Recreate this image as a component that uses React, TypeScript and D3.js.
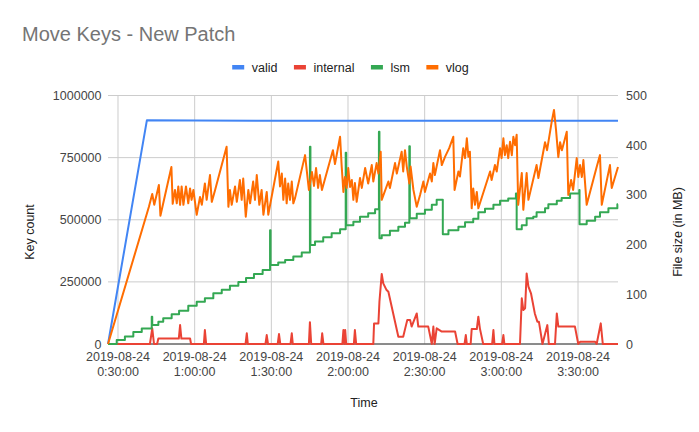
import React from 'react';
import * as d3 from 'd3';

// minutes after 2019-08-24 00:00 -> value
const validKeys: [number, number][] = [
  [26.1, 0], [41.3, 900000], [60, 899000], [225.65, 898000],
];

const internalKeys: [number, number][] = [
  [26.1, 0], [42.5, 0], [43.4, 63000], [44.1, 0], [45.3, 0], [45.8, 22000], [53.8, 22000], [54.3, 76000],
  [54.8, 22000], [58.2, 22000], [58.6, 0], [63.6, 0], [64.0, 56000], [64.5, 0], [79.9, 0], [80.4, 43000],
  [80.8, 0], [87.7, 0], [88.2, 36000], [88.7, 0], [92.5, 0], [93.0, 40000], [93.5, 0], [97.5, 0],
  [98.0, 43000], [98.4, 0], [104.7, 0], [105.1, 88000], [105.6, 0], [109.5, 0], [109.9, 43000], [110.4, 0],
  [117.8, 0], [118.2, 56000], [118.6, 0], [118.9, 56000], [119.3, 0], [122.3, 0], [122.7, 56000], [123.2, 0],
  [129.9, 0], [130.2, 83000], [131.9, 83000], [132.3, 170000], [133.2, 282000], [133.8, 244000],
  [135.1, 217000], [135.8, 210000], [139.7, 29000], [141.6, 29000], [142.7, 76000], [143.2, 97000],
  [144.3, 97000], [144.9, 70000], [146.9, 123000], [147.5, 70000], [151.4, 70000], [152.8, 0],
  [153.4, 70000], [153.9, 0], [154.7, 63000], [156.7, 50000], [161.9, 50000], [162.9, 0], [165.6, 0],
  [166.1, 36000], [166.5, 0], [168.0, 0], [168.4, 60000], [170.4, 60000], [171.0, 110000], [171.6, 63000],
  [172.9, 0], [176.4, 0], [176.9, 56000], [177.3, 0], [180.3, 0], [180.8, 36000], [181.2, 0], [187.3, 0],
  [188.0, 184000], [188.6, 137000], [189.3, 144000], [189.9, 284000], [190.6, 231000], [191.6, 204000],
  [193.1, 123000], [194.1, 90000], [194.7, 90000], [196.1, 0], [198.0, 76000], [198.6, 0], [201.0, 0],
  [201.7, 123000], [202.3, 70000], [208.8, 70000], [210.1, 0], [210.8, 9000], [216.7, 9000], [217.3, 0],
  [218.9, 83000], [219.7, 0], [225.65, 0],
];

const lsmMB: [number, number][] = [
  [26.1, 0], [29.5, 8], [32.7, 15], [36.0, 24], [39.3, 31], [43.2, 55], [43.4, 38], [45.8, 45], [47.7, 52],
  [51.0, 60], [53.9, 67], [57.5, 77], [60.8, 85], [64.0, 92], [67.3, 102], [70.6, 109], [73.8, 117],
  [77.1, 125], [80.1, 133], [83.2, 141], [86.6, 149], [89.5, 229], [89.7, 159], [92.7, 164], [95.4, 169],
  [98.6, 176], [101.9, 184], [105.1, 397], [105.3, 199], [107.1, 206], [110.3, 215], [113.6, 223],
  [116.9, 231], [119.1, 385], [119.3, 239], [122.1, 246], [124.7, 256], [127.9, 263], [130.6, 271],
  [132.1, 427], [132.3, 213], [133.2, 219], [136.4, 228], [139.7, 236], [142.3, 244], [144.0, 398],
  [144.2, 253], [146.9, 262], [150.1, 270], [152.8, 280], [154.7, 290], [157.1, 221], [159.3, 229],
  [163.2, 236], [165.8, 245], [169.0, 252], [171.0, 265], [173.6, 272], [176.9, 280], [179.5, 288],
  [182.7, 293], [185.7, 303], [186.0, 231], [188.0, 239], [189.9, 253], [192.5, 256], [193.8, 265],
  [197.1, 273], [198.4, 281], [201.7, 288], [203.6, 294], [206.9, 303], [210.5, 310], [210.6, 241],
  [213.4, 248], [216.7, 256], [218.6, 265], [221.9, 273], [225.4, 281], [225.65, 281],
];

const vlogMB: [number, number][] = [
  [26.1, 0], [42.1, 276], [43.4, 302], [44.2, 280], [46.0, 320], [46.6, 258], [50.9, 356], [51.4, 282],
  [52.3, 310], [53.0, 283], [53.6, 317], [54.3, 280], [54.9, 317], [55.6, 280], [56.6, 317], [57.5, 283],
  [58.2, 313], [58.8, 290], [59.5, 310], [60.8, 260], [62.1, 296], [62.8, 280], [64.0, 323], [64.7, 290],
  [66.0, 340], [66.7, 286], [68.0, 310], [72.5, 397], [73.2, 276], [73.8, 310], [74.5, 280], [75.8, 317],
  [76.5, 286], [77.7, 330], [78.4, 290], [79.0, 333], [80.0, 256], [81.0, 310], [81.7, 283], [82.9, 327],
  [83.6, 290], [84.3, 340], [85.3, 280], [86.2, 310], [86.9, 260], [88.2, 306], [88.8, 260], [92.7, 367],
  [93.4, 317], [94.1, 343], [94.7, 290], [95.4, 333], [96.0, 283], [96.6, 323], [97.3, 290], [98.0, 327],
  [98.6, 283], [99.3, 294], [103.2, 380], [104.7, 310], [105.9, 346], [106.7, 318], [107.5, 354],
  [108.3, 314], [109.0, 340], [109.8, 310], [114.1, 390], [114.9, 362], [116.9, 417], [117.5, 360],
  [118.2, 306], [118.8, 336], [119.5, 314], [120.1, 354], [120.8, 316], [121.5, 330], [122.1, 290],
  [122.7, 324], [123.4, 286], [124.7, 334], [125.4, 314], [126.7, 354], [127.9, 323], [129.3, 360],
  [129.9, 327], [131.2, 364], [131.9, 343], [132.8, 387], [133.2, 290], [135.8, 327], [136.4, 314],
  [138.4, 364], [139.1, 343], [141.0, 387], [141.6, 347], [142.3, 390], [143.0, 357], [144.0, 323],
  [144.5, 357], [145.6, 310], [146.9, 276], [148.2, 300], [149.5, 327], [150.1, 306], [152.1, 343],
  [152.8, 327], [153.4, 364], [154.0, 340], [156.0, 390], [156.7, 360], [158.0, 377], [159.6, 394],
  [161.2, 417], [161.7, 310], [163.2, 347], [163.8, 337], [165.1, 394], [165.8, 374], [166.5, 414],
  [167.1, 377], [167.7, 387], [168.4, 273], [169.0, 313], [169.7, 280], [170.4, 306], [171.0, 273],
  [175.6, 347], [176.2, 330], [177.5, 360], [178.2, 347], [179.5, 394], [180.1, 374], [180.8, 414],
  [181.4, 380], [182.1, 400], [182.7, 374], [183.4, 407], [184.1, 380], [184.7, 417], [185.4, 400],
  [186.0, 421], [186.6, 280], [188.0, 344], [188.6, 270], [189.9, 344], [190.6, 290], [193.8, 360],
  [194.5, 334], [197.1, 406], [197.9, 390], [199.7, 447], [200.6, 471], [201.4, 431], [202.3, 376],
  [203.0, 406], [203.7, 390], [205.6, 427], [206.2, 300], [207.3, 330], [208.1, 310], [209.5, 374],
  [210.1, 336], [210.8, 360], [211.5, 336], [212.1, 370], [213.4, 280], [217.3, 356], [218.6, 380],
  [219.3, 280], [222.5, 360], [223.2, 314], [225.65, 356],
];

const seriesNames = ['valid', 'internal', 'lsm', 'vlog'];
const seriesColors = ['#4285F4', '#EA4335', '#34A853', '#FF6D01'];
const keyTicks = [0, 250000, 500000, 750000, 1000000];
const mbTicks = [0, 100, 200, 300, 400, 500];

const W = 699;
const H = 432;
const left = 108, right = 618, top = 95.5, bottom = 344;
const font = '"Liberation Sans", Arial, sans-serif';

const base = new Date(2019, 7, 24, 0, 0, 0).getTime();
const toDate = (m: number) => new Date(base + m * 60000);

function measure(text: string, size: number) {
  const ctx = document.createElement('canvas').getContext('2d');
  if (!ctx) return text.length * size * 0.5;
  ctx.font = `${size}px ${font}`;
  return ctx.measureText(text).width;
}

export default function App() {
  const x = d3.scaleTime().domain([toDate(26.09), toDate(225.65)]).range([left, right]);
  const yKeys = d3.scaleLinear().domain([0, 1000000]).range([bottom, top]);
  const yMB = d3.scaleLinear().domain([0, 500]).range([bottom, top]);
  const xTicks = x.ticks(d3.timeMinute.every(30) as d3.TimeInterval);
  const fmtDay = d3.timeFormat('%Y-%m-%d');
  const fmtTime = d3.timeFormat('%-H:%M:%S');

  const keyLine = d3.line<[number, number]>().x(d => x(toDate(d[0]))).y(d => yKeys(d[1]));
  const mbLine = d3.line<[number, number]>().x(d => x(toDate(d[0]))).y(d => yMB(d[1]));
  const stepLine = d3.line<[number, number]>().x(d => x(toDate(d[0]))).y(d => yMB(d[1])).curve(d3.curveStepAfter);

  const paths = [keyLine(validKeys), keyLine(internalKeys), stepLine(lsmMB), mbLine(vlogMB)];

  // legend layout
  const legSize = 12.5;
  const widths = seriesNames.map(n => 12 + 7.5 + measure(n, legSize));
  const total = d3.sum(widths) + 16.5 * (widths.length - 1);
  let cursor = 350.5 - total / 2;
  const legend = seriesNames.map((n, i) => {
    const pos = cursor;
    cursor += widths[i] + 16.5;
    return { n, pos, color: seriesColors[i] };
  });

  return (
    <svg width={W} height={H} style={{ position: 'absolute', left: 0, top: 0, background: '#fff' }} fontFamily={font}>
      <rect width={W} height={H} fill="#fff" />
      <text x={22} y={40.5} fontSize={20} fill="#757575">Move Keys - New Patch</text>

      {legend.map(l => (
        <g key={l.n}>
          <rect x={l.pos} y={65} width={12} height={4.5} fill={l.color} />
          <text x={l.pos + 19.5} y={71.5} fontSize={legSize} fill="#222">{l.n}</text>
        </g>
      ))}

      {keyTicks.map(t => (
        <g key={'k' + t}>
          <line x1={left} x2={right} y1={yKeys(t)} y2={yKeys(t)} stroke="#cccccc" />
          <text x={101.5} y={yKeys(t) + 4.5} fontSize={12.5} textAnchor="end" fill="#444">{t}</text>
        </g>
      ))}
      {xTicks.map(t => (
        <g key={'x' + t.getTime()}>
          <line x1={x(t)} x2={x(t)} y1={top} y2={bottom} stroke="#cccccc" />
          <text x={x(t)} y={360.5} fontSize={12.5} textAnchor="middle" fill="#444">{fmtDay(t)}</text>
          <text x={x(t)} y={375.5} fontSize={12.5} textAnchor="middle" fill="#444">{fmtTime(t)}</text>
        </g>
      ))}
      {mbTicks.map(t => (
        <text key={'m' + t} x={626} y={yMB(t) + 4.5} fontSize={12.5} fill="#444">{t}</text>
      ))}
      <line x1={left} x2={right} y1={bottom} y2={bottom} stroke="#333" />

      {paths.map((p, i) => (
        <path key={seriesNames[i]} d={p || ''} fill="none" stroke={seriesColors[i]} strokeWidth={2} strokeLinejoin="round" />
      ))}

      <text x={364} y={406.5} fontSize={12.5} textAnchor="middle" fill="#222">Time</text>
      <text transform="translate(33.5,232) rotate(-90)" fontSize={12.5} textAnchor="middle" fill="#222">Key count</text>
      <text transform="translate(681.5,232) rotate(-90)" fontSize={12.5} textAnchor="middle" fill="#222">File size (in MB)</text>
    </svg>
  );
}
